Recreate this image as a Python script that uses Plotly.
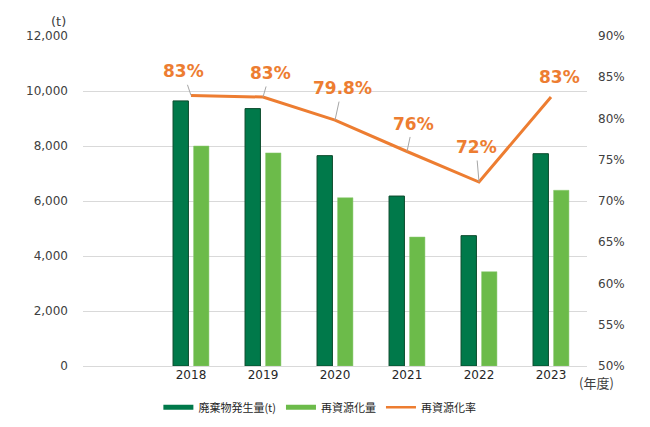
import plotly.graph_objects as go

years = [2018, 2019, 2020, 2021, 2022, 2023]
year_labels = ["2018", "2019", "2020", "2021", "2022", "2023"]
waste = [9640, 9360, 7650, 6180, 4740, 7720]
recycled = [8000, 7750, 6120, 4690, 3430, 6390]
rate = [82.8, 82.6, 79.8, 76.0, 72.3, 82.6]
rate_labels = ["83%", "83%", "79.8%", "76%", "72%", "83%"]
left_ticks = [0, 2000, 4000, 6000, 8000, 10000, 12000]
right_ticks = [50, 55, 60, 65, 70, 75, 80, 85, 90]
right_tick_text = [f"{v}%" for v in right_ticks]
series_names = ["廃棄物発生量(t)", "再資源化量", "再資源化率"]

# label offsets (pixels) relative to each point
label_dx = [-8, 7, 7, 6, -3, 8]
label_dy = [-24, -24, -32, -28, -35, -20]
show_leader = [True, True, True, True, True, False]

DARK = "#00794A"
LIGHT = "#6CBB4A"
ORANGE = "#ED7D31"
FONT = "DejaVu Sans"
CJK = "Noto Sans CJK JP"

fig = go.Figure()
fig.add_trace(go.Bar(x=years, y=waste, name=series_names[0], showlegend=False,
                     marker=dict(color=DARK, line=dict(color="#0B4A2C", width=1))))
fig.add_trace(go.Bar(x=years, y=recycled, name=series_names[1], showlegend=False,
                     marker=dict(color=LIGHT, line=dict(color="#8CCB72", width=0.5))))
fig.add_trace(go.Scatter(x=years, y=rate, name=series_names[2], yaxis="y2", mode="lines",
                         showlegend=False, line=dict(color=ORANGE, width=3)))
# legend entries drawn as flat wide swatches, like the reference
for nm, col, w in zip(series_names, [DARK, LIGHT, ORANGE], [5, 5, 2.5]):
    fig.add_trace(go.Scatter(x=[None], y=[None], mode="lines", name=nm,
                             line=dict(color=col, width=w), showlegend=True))

label_font = dict(family=FONT, size=17, color=ORANGE, weight="bold")
annotations = []
for xv, yv, txt, dx, dy, lead in zip(years, rate, rate_labels, label_dx, label_dy, show_leader):
    if lead:
        annotations.append(dict(x=xv, y=yv, xref="x", yref="y2", text=txt,
                                showarrow=True, arrowhead=0, arrowwidth=1, arrowcolor="#A6A6A6",
                                ax=dx, ay=dy, startstandoff=2, font=label_font))
    else:
        annotations.append(dict(x=xv, y=yv, xref="x", yref="y2", text=txt,
                                showarrow=False, xshift=dx, yshift=-dy, font=label_font))

annotations.append(dict(x=-0.03, y=1.045, xref="paper", yref="paper", text="(t)",
                        showarrow=False, xanchor="right", yanchor="middle",
                        font=dict(family=FONT, size=13, color="#404040")))
annotations.append(dict(x=1.0, y=-0.05, xref="paper", yref="paper", text="(年度)",
                        showarrow=False, xanchor="left", yanchor="middle", xshift=-10,
                        font=dict(family=CJK, size=13, color="#404040")))

fig.update_layout(
    width=642, height=419,
    margin=dict(l=75, r=63, t=28, b=61, autoexpand=False),
    paper_bgcolor="white", plot_bgcolor="white",
    barmode="group", bargap=0.43, bargroupgap=0.25,
    font=dict(family=FONT, size=12, color="#404040"),
    xaxis=dict(range=[2016.5, 2023.5], tickvals=years, ticktext=year_labels,
               showgrid=False, showline=False, zeroline=False, ticks="", automargin=False,
               tickfont=dict(family=FONT, size=12, color="#262626")),
    yaxis=dict(range=[0, 12000], tickvals=left_ticks, tickformat=",d", automargin=False,
               showgrid=True, gridcolor="#D9D9D9", gridwidth=1, zeroline=True,
               zerolinecolor="#D9D9D9", zerolinewidth=1, ticks="", ticklabelstandoff=14,
               tickfont=dict(family=FONT, size=12, color="#404040")),
    yaxis2=dict(range=[50, 90], tickvals=right_ticks, ticktext=right_tick_text, overlaying="y",
                side="right", showgrid=False, zeroline=False, ticks="", ticklabelstandoff=10,
                automargin=False,
                tickfont=dict(family=FONT, size=12, color="#404040")),
    legend=dict(orientation="h", x=0.47, xanchor="center", y=-0.125, yanchor="middle",
                font=dict(family=CJK, size=11, color="#262626"), traceorder="normal",
                itemwidth=30),
    annotations=annotations,
    showlegend=True,
)

fig.write_html("out.html")
